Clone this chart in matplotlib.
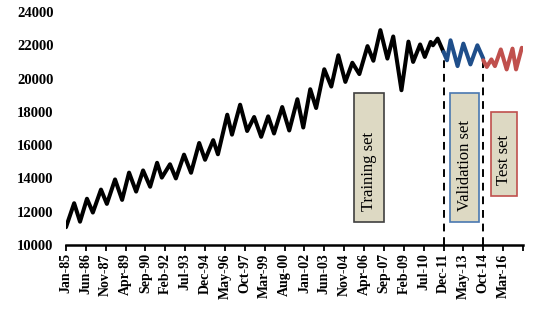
import numpy as np
import matplotlib
matplotlib.use("Agg")
import matplotlib.pyplot as plt
import matplotlib.dates as mdates
from matplotlib.patches import Rectangle

# ---- data (turning points) ----
train_dates = ["1985-01", "1985-08", "1986-01", "1986-07", "1986-12", "1987-07", "1987-12",
               "1988-07", "1989-01", "1989-07", "1990-01", "1990-07", "1991-01", "1991-07",
               "1991-11", "1992-06", "1992-11", "1993-06", "1993-12", "1994-07", "1994-12",
               "1995-07", "1995-11", "1996-07", "1996-11", "1997-06", "1997-12", "1998-06",
               "1998-12", "1999-06", "1999-11", "2000-06", "2000-12", "2001-07", "2001-12",
               "2002-06", "2002-11", "2003-06", "2003-12", "2004-06", "2004-12", "2005-06",
               "2005-12", "2006-07", "2006-12", "2007-06", "2007-12", "2008-05", "2008-12",
               "2009-06", "2009-10", "2010-04", "2010-08", "2011-01", "2011-03", "2011-07",
               "2011-12"]
train_values = [11070, 12510, 11400, 12780, 11950, 13330, 12470,
                13940, 12710, 14350, 13210, 14480, 13500, 14940,
                14050, 14850, 14000, 15430, 14340, 16130, 15120,
                16300, 15450, 17830, 16630, 18430, 16850, 17690,
                16500, 17730, 16700, 18290, 16880, 18760, 17060,
                19360, 18230, 20560, 19520, 21400, 19800, 20950,
                20270, 21950, 21070, 22910, 21200, 22530, 19300,
                22220, 21000, 22050, 21300, 22200, 22000, 22400,
                21600]

valid_dates = ["2011-12", "2012-03", "2012-06", "2012-12", "2013-05", "2013-11", "2014-05", "2014-10"]
valid_values = [21600, 21100, 22300, 20750, 22100, 20850, 22000, 21200]

test_dates = ["2014-10", "2015-01", "2015-05", "2015-08", "2016-01", "2016-06", "2016-11", "2017-02", "2017-07"]
test_values = [21100, 20700, 21150, 20750, 21750, 20550, 21800, 20550, 21850]

tick_start = "1985-01"
tick_step_months = 17
n_ticks = 24
split_labels = ["Training set", "Validation set", "Test set"]

# ---- plotting ----
plt.rcParams['font.family'] = ['Liberation Serif', 'DejaVu Serif']

fig = plt.figure(figsize=(5.42, 3.12), dpi=100)
ax = fig.add_axes([66/542, 1-245/312, 457/542, 233/312])

td = np.array(train_dates, dtype='datetime64[M]')
vd = np.array(valid_dates, dtype='datetime64[M]')
sd = np.array(test_dates, dtype='datetime64[M]')

lw = 2.9
ax.plot(td, train_values, color='black', lw=lw, solid_joinstyle='round', solid_capstyle='round', zorder=3)
ax.plot(vd, valid_values, color='#1F4E8A', lw=lw, solid_joinstyle='round', solid_capstyle='round', zorder=3)
ax.plot(sd, test_values, color='#C0504D', lw=lw, solid_joinstyle='round', solid_capstyle='round', zorder=3)

ax.vlines([vd[0], sd[0]], 10000, [valid_values[0], test_values[0]],
          colors='black', linestyles=(0, (4, 3)), lw=1.4, zorder=2)

ticks = np.datetime64(tick_start, 'M') + np.arange(n_ticks) * tick_step_months
ax.set_xlim(ticks[0], ticks[-1])
ax.set_ylim(10000, 24000)
ax.set_xticks(ticks)
labels = [str(mdates.num2date(mdates.date2num(t)).strftime('%b-%y')) for t in ticks]
labels[-1] = ''
ax.set_xticklabels(labels, rotation=90, fontsize=10, fontweight='bold')
ax.set_yticks(np.arange(10000, 24001, 2000))
ax.set_yticklabels([str(v) for v in range(10000, 24001, 2000)], fontsize=10.5, fontweight='bold')
ax.tick_params(axis='y', length=0, pad=9)
ax.tick_params(axis='x', length=4, width=1.3, direction='out', pad=2)

for s in ['top', 'right', 'left']:
    ax.spines[s].set_visible(False)
ax.spines['bottom'].set_linewidth(1.8)

boxes = [
    (0.631, 0.100, 0.065, 0.551, '#404040'),
    (0.840, 0.100, 0.064, 0.554, '#4A78B0'),
    (0.930, 0.210, 0.056, 0.362, '#C0504D'),
]
for (x, y, w, h, ec), label in zip(boxes, split_labels):
    ax.add_patch(Rectangle((x, y), w, h, transform=ax.transAxes, facecolor='#DDD9C3',
                           edgecolor=ec, lw=1.2, zorder=4, clip_on=False))
    ax.text(x + w/2, y + 0.047, label, transform=ax.transAxes, rotation=90,
            rotation_mode='anchor', ha='left', va='center', fontsize=12, zorder=5)

fig.savefig('out.png', dpi=100)
